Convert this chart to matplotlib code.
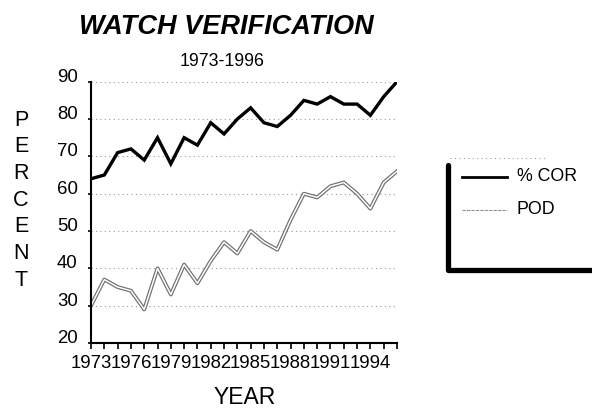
import matplotlib as mpl
mpl.use('agg')
import numpy as np
from matplotlib import pyplot as plt
from matplotlib.lines import Line2D

plt.rcParams['font.family'] = ['Liberation Sans', 'DejaVu Sans']

years = list(range(1973, 1997))
pct_cor = [64, 65, 71, 72, 69, 75, 68, 75, 73, 79, 76, 80,
           83, 79, 78, 81, 85, 84, 86, 84, 84, 81, 86, 90]
pod = [30, 37, 35, 34, 29, 40, 33, 41, 36, 42, 47, 44,
       50, 47, 45, 53, 60, 59, 62, 63, 60, 56, 63, 66]
year_labels = ['1973', '1976', '1979', '1982', '1985', '1988', '1991', '1994']
y_ticks = [20, 30, 40, 50, 60, 70, 80, 90]

W, H = 592, 412


def fx(x):
    return x / W


def fy(y):
    return 1 - y / H


fig = plt.figure(figsize=(W / 100, H / 100), dpi=100)
ax = fig.add_axes([fx(91), fy(343), (397 - 91) / W, (343 - 81.7) / H])

# grid lines first, dotted
for v in y_ticks[1:]:
    ax.axhline(v, color='#9a9a9a', linestyle=(0, (1, 3)), linewidth=0.8, zorder=1)

ax.plot(years, pct_cor, color='black', linewidth=2.4, solid_joinstyle='miter', zorder=3)
# POD drawn as a hollow double line
ax.plot(years, pod, color='#6e6e6e', linewidth=2.8, zorder=2)
ax.plot(years, pod, color='white', linewidth=1.1, zorder=2.5)

ax.set_xlim(1973, 1996)
ax.set_ylim(20, 90)
ax.spines['top'].set_visible(False)
ax.spines['right'].set_visible(False)
ax.spines['left'].set_linewidth(1.5)
ax.spines['bottom'].set_linewidth(1.5)

ax.set_xticks(years)
ax.set_xticklabels([str(y) if str(y) in year_labels else '' for y in years], fontsize=13.4)
ax.set_yticks(y_ticks)
ax.set_yticklabels([str(v) for v in y_ticks], fontsize=13.4)
ax.tick_params(axis='x', direction='out', length=4.3, width=1.2, pad=4.5)
ax.tick_params(axis='y', direction='out', length=2.5, width=1.2, pad=7)
for t in ax.get_yticklabels():
    t.set_verticalalignment('baseline')

# titles
fig.text(fx(226), fy(27), 'WATCH VERIFICATION', ha='center', va='center',
         fontsize=19.5, fontweight='bold', fontstyle='italic')
fig.text(fx(222), fy(61), '1973-1996', ha='center', va='center', fontsize=12.8)
fig.text(fx(245), fy(398), 'YEAR', ha='center', va='center', fontsize=16.5)

# stacked vertical y label
for i, ch in enumerate('PERCENT'):
    fig.text(fx(21), fy(120 + i * 26.7), ch, ha='center', va='center', fontsize=15.5)

# legend box with heavy shadow edge
fig.add_artist(Line2D([fx(450), fx(545)], [fy(158), fy(158)], color='#a0a0a0',
                      linestyle=(0, (1, 3)), linewidth=0.8))
fig.add_artist(Line2D([fx(447.5), fx(447.5), fx(592)], [fy(165), fy(269.5), fy(269.5)],
                      color='black', linewidth=3.8, solid_joinstyle='round',
                      solid_capstyle='round'))
fig.add_artist(Line2D([fx(462), fx(507)], [fy(177), fy(177)], color='black', linewidth=2.0))
fig.add_artist(Line2D([fx(462), fx(507)], [fy(210), fy(210)], color='#909090',
                      linestyle=(0, (3, 1)), linewidth=0.8))
fig.text(fx(517), fy(177), '% COR', ha='left', va='center', fontsize=12.8)
fig.text(fx(517), fy(210), 'POD', ha='left', va='center', fontsize=12.8)

fig.savefig('out.png', dpi=100)
